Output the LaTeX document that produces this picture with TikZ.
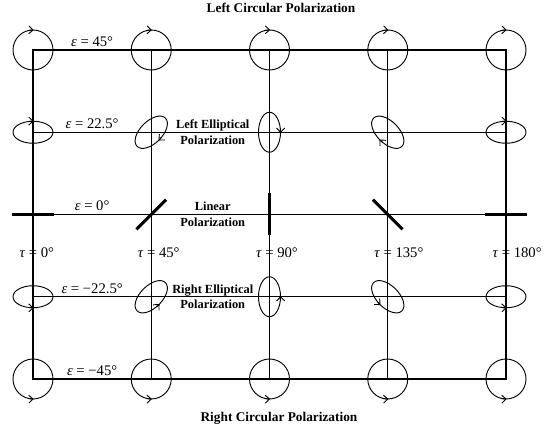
\documentclass[tikz,border=0pt]{standalone}
\usepackage{fontspec}
\setmainfont{Liberation Serif}
\usetikzlibrary{arrows.meta,calc}

\begin{document}
\begin{tikzpicture}[x=0.75pt,y=0.75pt,
  gridline/.style={line width=0.7pt},
  frameline/.style={line width=1pt},
  pol/.style={line width=0.7pt},
  polarrow/.style={line width=0.7pt,-{Straight Barb[length=3.2pt,width=6pt]}},
  linpol/.style={line width=2.3pt},
  anglabel/.style={font=\fontsize{11}{13}\selectfont},
  zonelabel/.style={align=center,font=\bfseries\fontsize{9.3}{11.8}\selectfont},
  titlelabel/.style={font=\bfseries\fontsize{10}{12}\selectfont}]

  \useasboundingbox (0,0) rectangle (556,428);

  % grid points: column i = tau, row j = epsilon
  \foreach \i in {0,...,4}
    \foreach \j in {0,...,4}
      \coordinate (g-\i-\j) at ({33+118.25*\i},{378-82.25*\j});

  % grid lines
  \foreach \j in {1,2,3}
    \draw[gridline] (g-0-\j) -- (g-4-\j);
  \foreach \i in {1,2,3}
    \draw[gridline] (g-\i-0) -- (g-\i-4);
  \draw[frameline] (g-0-0) rectangle (g-4-4);

  % circular polarization (top row left, bottom row right)
  \foreach \i in {0,...,4} {
    \draw[pol] (g-\i-0) circle (20);
    \draw[polarrow] ([shift={(105:20)}]g-\i-0) arc (105:88:20);
    \draw[pol] (g-\i-4) circle (20);
    \draw[polarrow] ([shift={(255:20)}]g-\i-4) arc (255:272:20);
  }

  % elliptical polarization (epsilon = 22.5 and -22.5)
  \foreach \i/\rot/\sa/\ea/\sb/\eb in {0/0/100/88/-100/-88,
      1/45/-80/-92/-100/-88, 2/90/-80/-92/-100/-88,
      3/135/100/88/80/92, 4/0/100/88/-100/-88} {
    \begin{scope}[shift={(g-\i-1)},rotate=\rot]
      \draw[pol] (0,0) ellipse (20 and 11);
      \draw[polarrow] (\sa:20 and 11) arc (\sa:\ea:20 and 11);
    \end{scope}
    \begin{scope}[shift={(g-\i-3)},rotate=\rot]
      \draw[pol] (0,0) ellipse (20 and 11);
      \draw[polarrow] (\sb:20 and 11) arc (\sb:\eb:20 and 11);
    \end{scope}
  }

  % linear polarization (epsilon = 0)
  \foreach \i/\ang in {0/0,1/45,2/90,3/135,4/180}
    \draw[linpol] ([shift={(\ang:21)}]g-\i-2) -- ([shift={(\ang+180:21)}]g-\i-2);

  % ellipticity labels
  \foreach \j/\val in {0/45,1/22.5,2/0,3/−22.5,4/−45}
    \node[anglabel,above=-1pt] (eps-\j) at ($(g-0-\j)!0.5!(g-1-\j)$)
      {\textit{ε} = \val°};

  % orientation labels, the = sits on the vertical line
  \foreach \i/\val in {0/0,1/45,2/90,3/135,4/180}
    \node[anglabel,inner sep=0pt] (tau-\i) at ($(g-\i-2)!0.47!(g-\i-3)$)
      {\makebox[0pt][r]{\textit{τ}\ }=\makebox[0pt][l]{\ \val°}};

  % zone labels
  \node[zonelabel] (lep) at ($(g-1-1)!0.52!(g-2-1)$) {Left Elliptical\\Polarization};
  \node[zonelabel] (lin) at ($(g-1-2)!0.52!(g-2-2)$) {Linear\\Polarization};
  \node[zonelabel] (rep) at ($(g-1-3)!0.52!(g-2-3)$) {Right Elliptical\\Polarization};
  \node[titlelabel] (lcp) at (281,420) {Left Circular Polarization};
  \node[titlelabel] (rcp) at (279,10) {Right Circular Polarization};

\end{tikzpicture}
\end{document}
